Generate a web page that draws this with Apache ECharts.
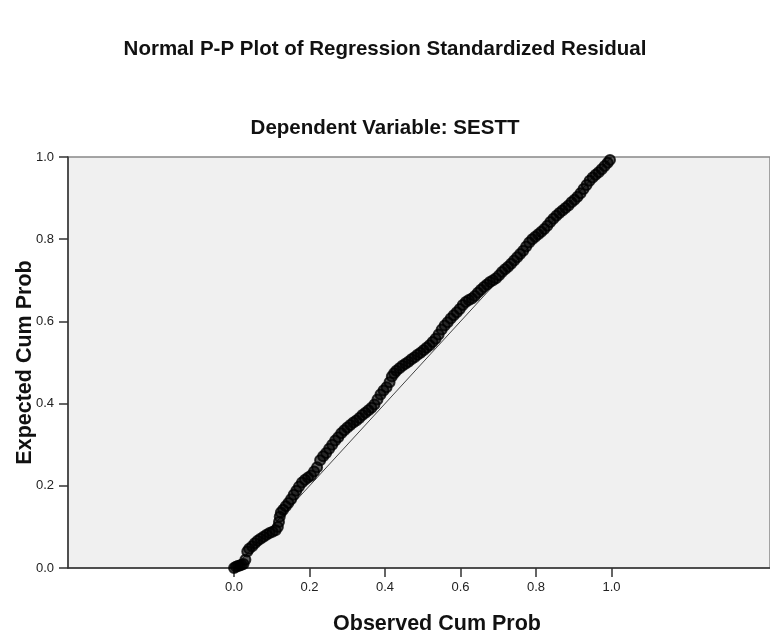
<!DOCTYPE html>
<html>
<head>
<meta charset="utf-8">
<script src="https://cdn.jsdelivr.net/npm/echarts@6/dist/echarts.min.js"></script>
<style>html,body{margin:0;padding:0;background:#fff}#c{width:770px;height:631px}</style>
</head>
<body>
<div id="c"></div>
<script>
var obsCumProb = [0.000,0.005,0.010,0.015,0.020,0.025,0.030,0.035,0.040,0.048,0.055,0.062,0.070,0.078,0.086,0.094,0.102,0.110,0.116,0.119,0.121,0.124,0.130,0.137,0.144,0.151,0.158,0.165,0.172,0.180,0.188,0.196,0.204,0.212,0.220,0.228,0.236,0.244,0.252,0.260,0.268,0.276,0.284,0.292,0.300,0.308,0.316,0.324,0.332,0.340,0.348,0.356,0.364,0.372,0.380,0.388,0.396,0.404,0.412,0.418,0.424,0.430,0.438,0.446,0.454,0.462,0.470,0.478,0.486,0.494,0.502,0.510,0.518,0.526,0.534,0.542,0.550,0.558,0.566,0.574,0.582,0.590,0.598,0.606,0.614,0.622,0.630,0.638,0.646,0.654,0.662,0.670,0.678,0.686,0.694,0.702,0.710,0.718,0.726,0.734,0.742,0.750,0.758,0.766,0.774,0.782,0.790,0.798,0.806,0.814,0.822,0.830,0.838,0.846,0.854,0.862,0.870,0.878,0.886,0.894,0.902,0.910,0.918,0.926,0.934,0.942,0.950,0.958,0.966,0.974,0.982,0.990,0.996];
var expCumProb = [0.000,0.003,0.005,0.006,0.008,0.010,0.020,0.040,0.047,0.053,0.060,0.066,0.071,0.076,0.081,0.085,0.088,0.092,0.100,0.112,0.125,0.135,0.142,0.150,0.158,0.167,0.178,0.188,0.198,0.208,0.215,0.220,0.225,0.235,0.245,0.262,0.272,0.280,0.290,0.300,0.310,0.318,0.328,0.335,0.342,0.348,0.354,0.359,0.365,0.372,0.378,0.384,0.390,0.398,0.410,0.422,0.432,0.440,0.452,0.466,0.474,0.480,0.486,0.492,0.497,0.502,0.508,0.513,0.519,0.524,0.530,0.536,0.542,0.550,0.558,0.568,0.580,0.590,0.598,0.607,0.615,0.622,0.630,0.640,0.647,0.652,0.656,0.662,0.670,0.677,0.684,0.690,0.696,0.700,0.705,0.712,0.720,0.727,0.733,0.740,0.748,0.756,0.764,0.772,0.782,0.792,0.800,0.806,0.812,0.818,0.825,0.833,0.842,0.850,0.857,0.864,0.870,0.876,0.882,0.890,0.896,0.903,0.912,0.922,0.932,0.942,0.950,0.957,0.963,0.970,0.978,0.986,0.993];
var refLine = [[0, 0], [1, 1]];
var xTicks = [0, 0.2, 0.4, 0.6, 0.8, 1.0];

var points = obsCumProb.map(function (v, i) { return [v, expCumProb[i]]; });
var font = '"Liberation Sans", Arial, sans-serif';

var chart = echarts.init(document.getElementById('c'), null, {renderer: 'canvas'});
chart.setOption({
  backgroundColor: '#fff',
  animation: false,
  title: [
    {text: 'Normal P-P Plot of Regression Standardized Residual', left: 'center', top: 34,
     textStyle: {fontFamily: font, fontSize: 20.5, fontWeight: 'bold', color: '#111'}},
    {text: 'Dependent Variable: SESTT', left: 'center', top: 113,
     textStyle: {fontFamily: font, fontSize: 20.5, fontWeight: 'bold', color: '#111'}}
  ],
  grid: {left: 68, right: 0, top: 157, bottom: 63, show: true, outerBoundsMode: 'none', containLabel: false,
         backgroundColor: '#f0f0f0', borderColor: '#888', borderWidth: 1.5},
  xAxis: {
    type: 'value', min: -0.44, max: 1.42,
    name: 'Observed Cum Prob', nameLocation: 'middle', nameGap: 45, nameMoveOverlap: false,
    nameTextStyle: {fontFamily: font, fontSize: 21.5, fontWeight: 'bold', color: '#111', padding: [0, 0, 0, 36]},
    axisLine: {show: true, onZero: false, lineStyle: {color: '#333', width: 1.5}},
    axisTick: {show: true, length: 9, inside: false, customValues: xTicks, lineStyle: {color: '#333', width: 1.5}},
    axisLabel: {customValues: xTicks, margin: 13, fontFamily: font, fontSize: 13, color: '#222',
                formatter: function (v) { return v.toFixed(1); }},
    splitLine: {show: false}
  },
  yAxis: {
    type: 'value', min: 0, max: 1, interval: 0.2,
    name: 'Expected Cum Prob', nameLocation: 'middle', nameGap: 32, nameMoveOverlap: false,
    nameTextStyle: {fontFamily: font, fontSize: 21.5, fontWeight: 'bold', color: '#111'},
    axisLine: {show: true, onZero: false, lineStyle: {color: '#333', width: 1.5}},
    axisTick: {show: true, length: 9, lineStyle: {color: '#333', width: 1.5}},
    axisLabel: {margin: 14, fontFamily: font, fontSize: 13, color: '#222',
                formatter: function (v) { return v.toFixed(1); }},
    splitLine: {show: false}
  },
  series: [
    {type: 'line', data: refLine, symbol: 'none', z: 1,
     lineStyle: {color: '#444', width: 1}},
    {type: 'scatter', data: points, symbol: 'circle', symbolSize: 10, z: 2,
     itemStyle: {color: 'rgba(0,0,0,0.75)', borderColor: '#000', borderWidth: 2}}
  ]
});
</script>
</body>
</html>
